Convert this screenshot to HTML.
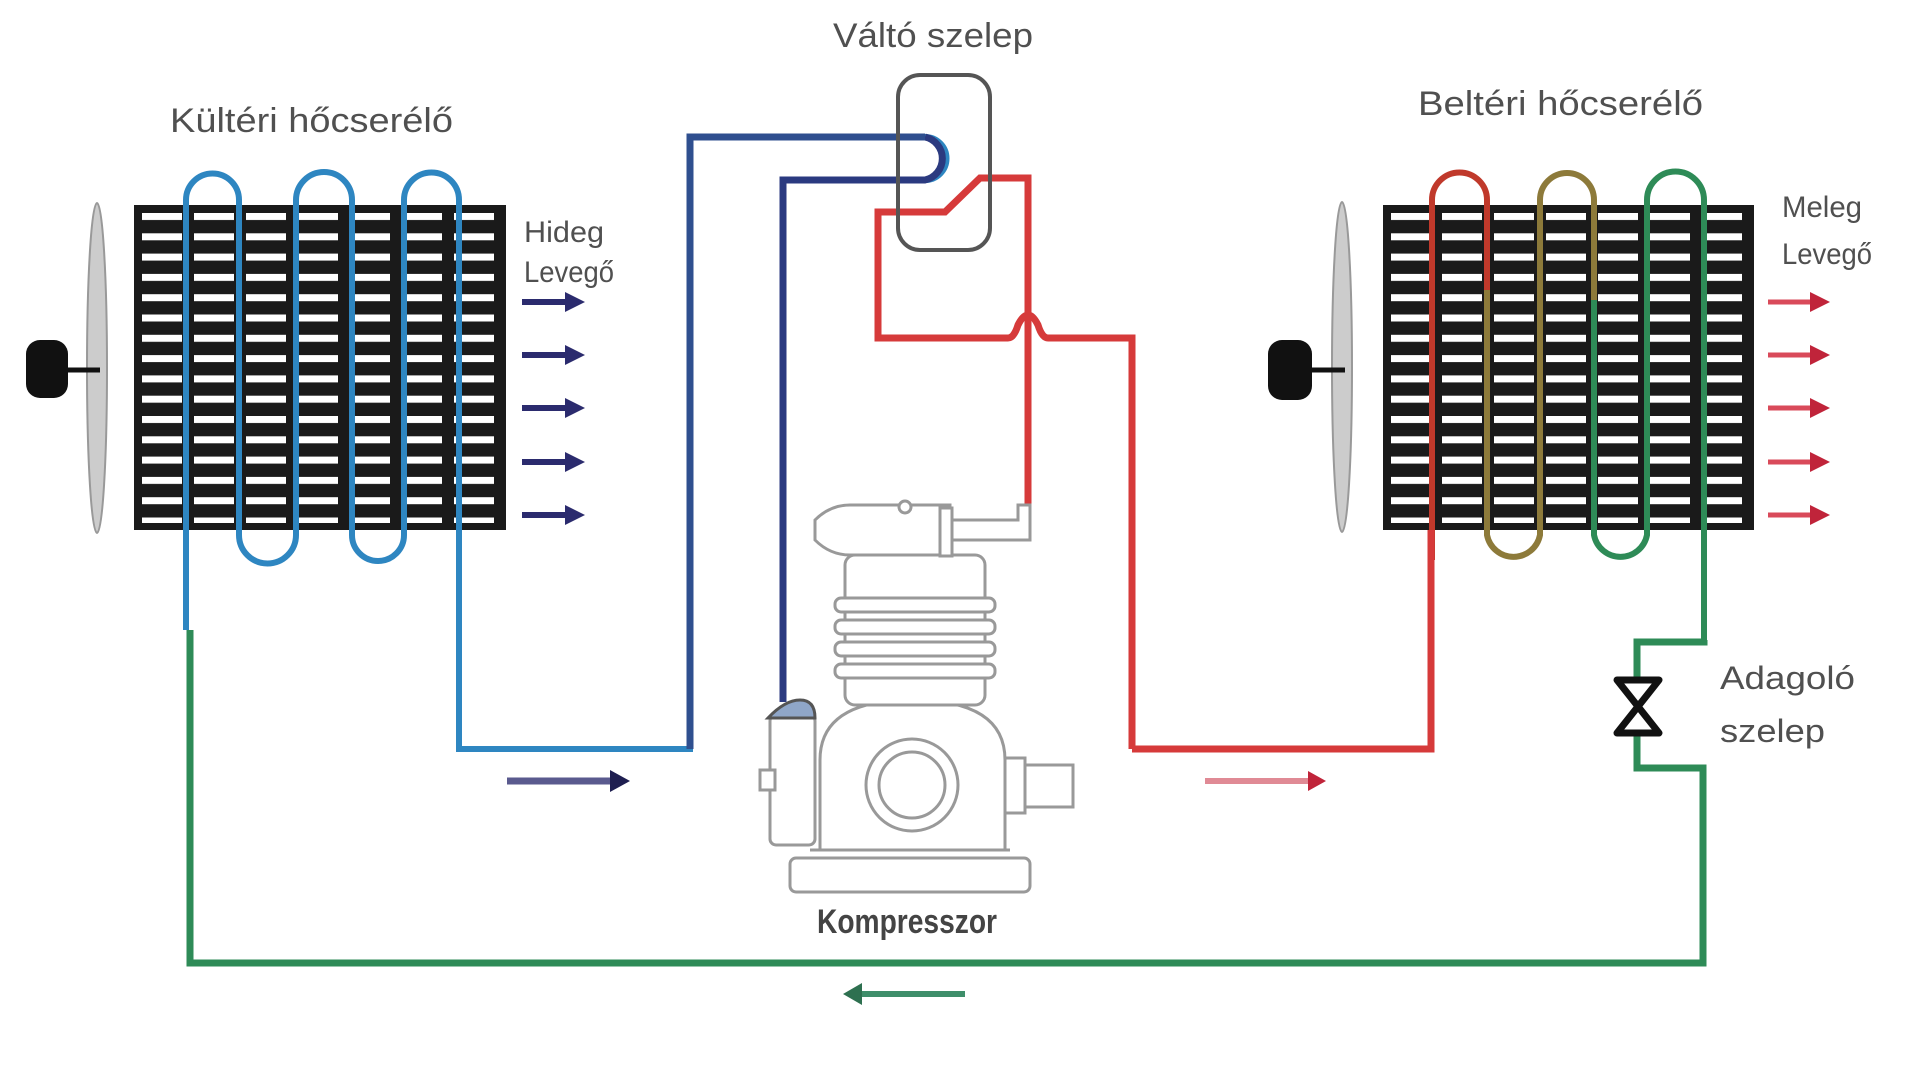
<!DOCTYPE html>
<html><head><meta charset="utf-8"><style>
html,body{margin:0;padding:0;background:#fff;}
svg{display:block}
text{font-family:"Liberation Sans",sans-serif;fill:#505050;}
</style></head><body>
<svg width="1920" height="1069" viewBox="0 0 1920 1069" xmlns="http://www.w3.org/2000/svg">
<defs>
<pattern id="fins" x="0" y="0" width="52" height="20.3" patternUnits="userSpaceOnUse" patternTransform="translate(142,213)">
<rect x="0" y="0" width="40" height="7" fill="#fff"/>
</pattern>
</defs>

<!-- labels -->
<text x="933" y="47" font-size="34" text-anchor="middle" textLength="200" lengthAdjust="spacingAndGlyphs">Váltó szelep</text>
<text x="170" y="132" font-size="34" textLength="283" lengthAdjust="spacingAndGlyphs">Kültéri hőcserélő</text>
<text x="1418" y="115" font-size="34" textLength="285" lengthAdjust="spacingAndGlyphs">Beltéri hőcserélő</text>
<text x="524" y="242" font-size="30" textLength="80" lengthAdjust="spacingAndGlyphs">Hideg</text>
<text x="524" y="282" font-size="30" textLength="90" lengthAdjust="spacingAndGlyphs">Levegő</text>
<text x="1782" y="217" font-size="30" textLength="80" lengthAdjust="spacingAndGlyphs">Meleg</text>
<text x="1782" y="264" font-size="30" textLength="90" lengthAdjust="spacingAndGlyphs">Levegő</text>
<text x="1720" y="689" font-size="32" textLength="135" lengthAdjust="spacingAndGlyphs">Adagoló</text>
<text x="1720" y="742" font-size="32" textLength="105" lengthAdjust="spacingAndGlyphs">szelep</text>
<text x="907" y="933" font-size="34" font-weight="bold" text-anchor="middle" textLength="180" lengthAdjust="spacingAndGlyphs" style="fill:#444">Kompresszor</text>

<!-- left fan -->
<ellipse cx="97" cy="368" rx="10" ry="165" fill="#ccc" stroke="#999" stroke-width="2"/>
<line x1="60" y1="370" x2="100" y2="370" stroke="#111" stroke-width="5"/>
<rect x="26" y="340" width="42" height="58" rx="14" fill="#111"/>
<!-- right fan -->
<ellipse cx="1342" cy="367" rx="10" ry="165" fill="#ccc" stroke="#999" stroke-width="2"/>
<line x1="1300" y1="370" x2="1345" y2="370" stroke="#111" stroke-width="5"/>
<rect x="1268" y="340" width="44" height="60" rx="14" fill="#111"/>

<!-- left coil -->
<rect x="134" y="205" width="372" height="325" fill="#1a1a1a"/>
<rect x="142" y="213" width="356" height="310" fill="url(#fins)"/>
<g fill="none" stroke="#2e86c1" stroke-width="6">
<path d="M186,630 V200 A26,26 0 0 1 239,200 V535 A28,28 0 0 0 296,535 V200 A28,28 0 0 1 352,200 V535 A26,26 0 0 0 404,535 V200 A27,27 0 0 1 459,200 V749 H690 V137 H925 A20,20 0 0 1 925,180 H783 V702"/>
</g>
<path d="M925,137 A22,22 0 0 1 925,180 H783 V702" fill="none" stroke="#2b3a80" stroke-width="7"/>
<path d="M690,749 V137 H925" fill="none" stroke="#2f4f8f" stroke-width="7"/>

<!-- right coil -->
<rect x="1383" y="205" width="371" height="325" fill="#1a1a1a"/>
<rect x="1391" y="213" width="355" height="310" fill="url(#fins)"/>
<g fill="none" stroke-width="6">
<path d="M1432,560 V200 A27,27 0 0 1 1487,200 V290" stroke="#c0392b"/>
<path d="M1487,290 V535 A27,27 0 0 0 1540,535 V200 A27,27 0 0 1 1594,200 V300" stroke="#8d7a3a"/>
<path d="M1594,300 V535 A27,27 0 0 0 1647,535 V200 A28,28 0 0 1 1704,200 V642" stroke="#2e8b57"/>
</g>

<!-- red lines -->
<g fill="none" stroke="#d63a3a" stroke-width="7">
<path d="M1132,749 H1431 V530"/>
<path d="M1132,749 V338 H1048 Q1042,338 1038,325 Q1028,305 1018,325 Q1014,338 1008,338 H878 V212 H945 L980,178 H1028 V505"/>
</g>

<!-- green -->
<g fill="none" stroke="#2e8b57" stroke-width="7">
<path d="M1704,640 V642 H1637 V768 H1703 V963 H190 V630"/>
</g>
<path d="M186,630 V600" stroke="#2e86c1" stroke-width="6"/>
<path d="M1617,680 L1659,733 H1617 L1659,680 Z" fill="#fff" stroke="#111" stroke-width="7" stroke-linejoin="round"/>

<!-- valve box -->
<rect x="898" y="75" width="92" height="175" rx="22" fill="none" stroke="#555" stroke-width="4"/>

<!-- air arrows -->
<g stroke="#2b2b6e" stroke-width="6">
<line x1="522" y1="302" x2="570" y2="302"/><line x1="522" y1="355" x2="570" y2="355"/><line x1="522" y1="408" x2="570" y2="408"/><line x1="522" y1="462" x2="570" y2="462"/><line x1="522" y1="515" x2="570" y2="515"/>
</g>
<g fill="#2b2b6e">
<path d="M565,292 L585,302 L565,312z"/><path d="M565,345 L585,355 L565,365z"/><path d="M565,398 L585,408 L565,418z"/><path d="M565,452 L585,462 L565,472z"/><path d="M565,505 L585,515 L565,525z"/>
</g>
<g stroke="#d94a5a" stroke-width="5">
<line x1="1768" y1="302" x2="1815" y2="302"/><line x1="1768" y1="355" x2="1815" y2="355"/><line x1="1768" y1="408" x2="1815" y2="408"/><line x1="1768" y1="462" x2="1815" y2="462"/><line x1="1768" y1="515" x2="1815" y2="515"/>
</g>
<g fill="#c0243a">
<path d="M1810,292 L1830,302 L1810,312z"/><path d="M1810,345 L1830,355 L1810,365z"/><path d="M1810,398 L1830,408 L1810,418z"/><path d="M1810,452 L1830,462 L1810,472z"/><path d="M1810,505 L1830,515 L1810,525z"/>
</g>

<!-- flow arrows -->
<line x1="507" y1="781" x2="615" y2="781" stroke="#5a5a8e" stroke-width="7"/>
<path d="M610,770 L630,781 L610,792z" fill="#1e1e50"/>
<line x1="1205" y1="781" x2="1312" y2="781" stroke="#e08a95" stroke-width="6"/>
<path d="M1308,771 L1326,781 L1308,791z" fill="#c0243a"/>
<line x1="860" y1="994" x2="965" y2="994" stroke="#3e8e6a" stroke-width="6"/>
<path d="M862,983 L843,994 L862,1005z" fill="#2e7050"/>

<!-- compressor -->
<g fill="#fff" stroke="#999" stroke-width="3">
<rect x="790" y="858" width="240" height="34" rx="6"/>
<path d="M820,850 V760 Q820,700 912,700 Q1005,700 1005,760 V850 Z"/>
<line x1="810" y1="850" x2="1010" y2="850"/>
<circle cx="912" cy="785" r="46"/>
<circle cx="912" cy="785" r="33"/>
<rect x="1005" y="758" width="20" height="55"/>
<rect x="1025" y="765" width="48" height="42"/>
<rect x="845" y="555" width="140" height="150" rx="10"/>
<rect x="835" y="598" width="160" height="14" rx="6"/>
<rect x="835" y="620" width="160" height="14" rx="6"/>
<rect x="835" y="642" width="160" height="14" rx="6"/>
<rect x="835" y="664" width="160" height="14" rx="6"/>
<path d="M815,520 Q830,505 850,505 H950 V555 H850 Q830,555 815,540 Z"/>
<rect x="940" y="508" width="12" height="48"/>
<path d="M952,520 H1018 V505 H1030 V540 H952 Z"/>
<circle cx="905" cy="507" r="6"/>
<rect x="770" y="715" width="45" height="130" rx="6"/>
<rect x="760" y="770" width="15" height="20"/>
</g>
<path d="M768,718 Q785,700 800,700 Q815,700 815,718 Z" fill="#8fa6c8" stroke="#555" stroke-width="3"/>
</svg>
</body></html>
